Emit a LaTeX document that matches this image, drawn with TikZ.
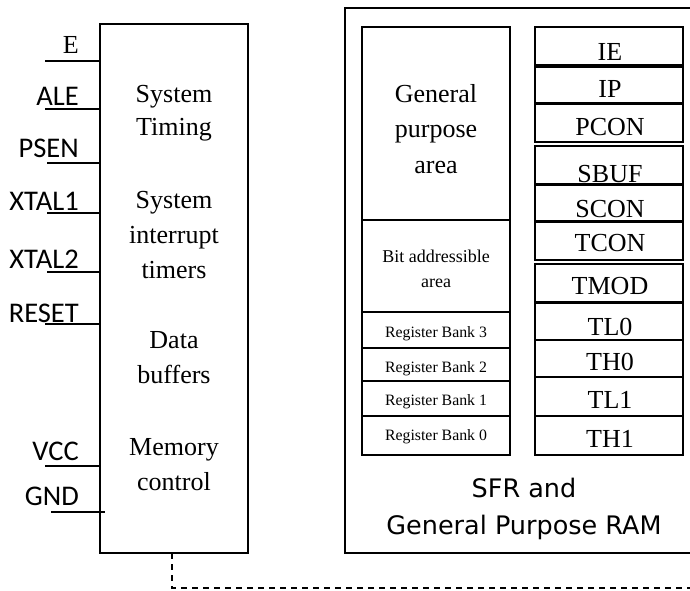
\documentclass[tikz,border=0pt]{standalone}
\usepackage{fontspec}
\setmainfont{Liberation Serif}
\newfontfamily\calib{Carlito}
\newfontfamily\dvs{DejaVu Sans}
\begin{document}
\begin{tikzpicture}[x=1pt,y=-1pt,
  boxline/.style={draw,line width=1.6pt},
  blk/.style={draw,line width=1.6pt,rectangle,inner sep=0pt},
  cell/.style={draw,line width=1.5pt,rectangle,inner sep=0pt,minimum width=148pt},
  pin/.style={line width=1.7pt},
  pinlbl/.style={inner sep=0pt,anchor=base east,font=\calib\fontsize{28.5}{30}\selectfont},
  mtxt/.style={inner sep=0pt,anchor=base,font=\fontsize{26}{30}\selectfont},
  regtxt/.style={inner sep=0pt,anchor=base,font=\fontsize{26}{30}\selectfont},
  bittxt/.style={inner sep=0pt,anchor=base,font=\fontsize{18}{20}\selectfont},
  banktxt/.style={inner sep=0pt,anchor=base,font=\fontsize{15.8}{18}\selectfont},
  ramtxt/.style={inner sep=0pt,anchor=base,font=\dvs\fontsize{25.5}{30}\selectfont},
  dashline/.style={line width=1.5pt,dash pattern=on 6pt off 5pt}
]
\clip (0,0) rectangle (690,590);
\fill[white] (0,0) rectangle (690,590);

% main block
\node[blk,minimum width=148pt,minimum height=529pt] (main) at (174,288.5) {};
\node[mtxt] (t1) at (174,102) {System};
\node[mtxt] (t2) at (174,135) {Timing};
\node[mtxt] (t3) at (174,208) {System};
\node[mtxt] (t4) at (174,243) {interrupt};
\node[mtxt] (t5) at (174,278) {timers};
\node[mtxt] (t6) at (174,348) {Data};
\node[mtxt] (t7) at (174,383) {buffers};
\node[mtxt] (t8) at (174,455) {Memory};
\node[mtxt] (t9) at (174,490) {control};

% pins
\node[inner sep=0pt,anchor=base east,font=\fontsize{26}{30}\selectfont] (lE) at (79,53) {E};
\node[pinlbl] (lALE) at (79,105) {ALE};
\node[pinlbl] (lPSEN) at (79,157) {PSEN};
\node[pinlbl] (lX1) at (79,210) {XTAL1};
\node[pinlbl] (lX2) at (79,268) {XTAL2};
\node[pinlbl] (lRST) at (79,322) {RESET};
\node[pinlbl] (lVCC) at (79,460) {VCC};
\node[pinlbl] (lGND) at (79,505) {GND};

\coordinate (pE) at (45,61);
\coordinate (pALE) at (45,109);
\coordinate (pPSEN) at (47,163);
\coordinate (pX1) at (47,213);
\coordinate (pX2) at (47,272);
\coordinate (pRST) at (45,324);
\coordinate (pVCC) at (45,466);
\coordinate (pGNDa) at (51,512);
\coordinate (pGNDb) at (105,512);
\foreach \p in {pE,pALE,pPSEN,pX1,pX2,pRST,pVCC}{
  \draw[pin] (\p) -- (\p -| main.west);
}
\draw[pin] (pGNDa) -- (pGNDb);

% outer RAM box
\coordinate (ramA) at (345,8);
\coordinate (ramB) at (720,553);
\draw[boxline] (ramA) rectangle (ramB);

% left column
\node[cell,minimum height=193pt] (gp) at (436,123.5) {};
\node[mtxt] (gp1) at (436,102) {General};
\node[mtxt] (gp2) at (436,137.5) {purpose};
\node[mtxt] (gp3) at (436,173) {area};
\node[cell,minimum height=92pt] (bit) at (436,266) {};
\node[bittxt] (bit1) at (436,262) {Bit addressible};
\node[bittxt] (bit2) at (436,287) {area};
\node[cell,minimum height=36pt] (b3) at (436,330) {};
\node[banktxt] (b3t) at (436,337) {Register Bank 3};
\node[cell,minimum height=33pt] (b2) at (436,364.5) {};
\node[banktxt] (b2t) at (436,372) {Register Bank 2};
\node[cell,minimum height=35pt] (b1) at (436,398.5) {};
\node[banktxt] (b1t) at (436,405) {Register Bank 1};
\node[cell,minimum height=39pt] (b0) at (436,435.5) {};
\node[banktxt] (b0t) at (436,440) {Register Bank 0};

% right column (SFRs)
\node[cell,minimum height=38pt] (ie) at (609,46) {};
\node[regtxt] (iet) at (610,60) {IE};
\node[cell,minimum height=36pt] (ip) at (609,85) {};
\node[regtxt] (ipt) at (610,97) {IP};
\node[cell,minimum height=38pt] (pcon) at (609,123) {};
\node[regtxt] (pcont) at (610,135) {PCON};
\node[cell,minimum height=38pt] (sbuf) at (609,165) {};
\node[regtxt] (sbuft) at (610,182) {SBUF};
\node[cell,minimum height=36pt] (scon) at (609,203) {};
\node[regtxt] (scont) at (610,217) {SCON};
\node[cell,minimum height=38pt] (tcon) at (609,241) {};
\node[regtxt] (tcont) at (610,251) {TCON};
\node[cell,minimum height=38pt] (tmod) at (609,283) {};
\node[regtxt] (tmodt) at (610,294) {TMOD};
\node[cell,minimum height=37pt] (tl0) at (609,321.5) {};
\node[regtxt] (tl0t) at (610,335) {TL0};
\node[cell,minimum height=37pt] (th0) at (609,358.5) {};
\node[regtxt] (th0t) at (610,370) {TH0};
\node[cell,minimum height=39pt] (tl1) at (609,396.5) {};
\node[regtxt] (tl1t) at (610,408) {TL1};
\node[cell,minimum height=39pt] (th1) at (609,435.5) {};
\node[regtxt] (th1t) at (610,447) {TH1};

\node[ramtxt] (ram1) at (524,497) {SFR and};
\node[ramtxt] (ram2) at (524,534) {General Purpose RAM};

% dashed link
\coordinate (dA) at (172,553);
\coordinate (dB) at (172,588);
\coordinate (dC) at (700,588);
\draw[dashline] (dA) -- (dB) -- (dC);
\end{tikzpicture}
\end{document}
